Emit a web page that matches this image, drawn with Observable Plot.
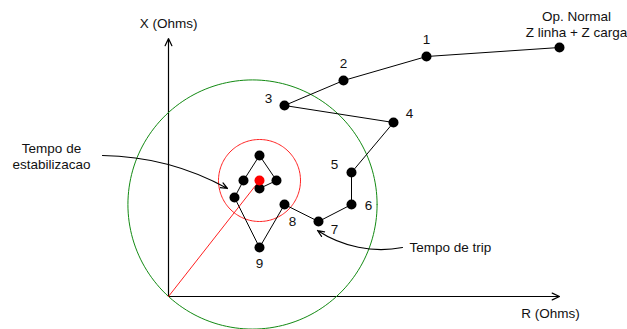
<!DOCTYPE html>
<html>
<head>
<meta charset="utf-8">
<script src="https://cdn.jsdelivr.net/npm/d3@7"></script>
<script src="https://cdn.jsdelivr.net/npm/@observablehq/plot@0.6"></script>
<style>
  html, body { margin: 0; padding: 0; background: #fff; }
  #chart svg { display: block; }
</style>
</head>
<body>
<div id="chart"></div>
<script>
// ---- Data (R, X in Ohms) ----
const trajLabels = ["Op. Normal", "1", "2", "3", "4", "5", "6", "7", "8", "9", "", "", "", "", ""];
const trajR = [39.1, 25.8, 17.5, 11.6, 22.5, 18.3, 18.3, 15.0, 11.6, 9.1, 6.6, 7.5, 9.1, 10.8, 9.1];
const trajX = [24.9, 24.0, 21.6, 19.1, 17.4, 12.4, 9.2, 7.5, 9.2, 4.9, 9.9, 11.6, 14.1, 11.6, 10.8];

const stablePoint = [9.1, 11.6];      // final (red) impedance point
const stableRadius = 4.1;            // red circle radius
const mhoCenter = [8.4, 9.2];        // green mho circle centre (passes through origin)

const axisLabels = ["R (Ohms)", "X (Ohms)"];
const axisEnd = [39.1, 25.8];

const annoTexts = ["Tempo de\nestabilizacao", "Tempo de trip"];
const annoTextR = [-11.7, 24.1];
const annoTextX = [14.1, 4.9];
const annoFromR = [-6.6, 23.4];
const annoFromX = [14.1, 4.9];
const annoToR = [5.9, 14.9];
const annoToX = [10.8, 6.6];

const normalText = "Op. Normal\nZ linha + Z carga";

// ---- Layout (pixel offsets, styles) ----
const labelOffsets = {
  "1": [0, -17], "2": [0, -17], "3": [-16, -7], "4": [16, -9], "5": [-17, -8],
  "6": [17, 1], "7": [16, 8], "8": [8, 17], "9": [0, 16]
};
const font = "Liberation Sans, Arial, sans-serif";
const fs = 13.5;

const traj = trajR.map((r, i) => ({R: r, X: trajX[i], label: trajLabels[i]}));

function circlePts(c, rad) {
  return d3.range(0, 361, 2).map(a => ({
    R: c[0] + rad * Math.cos(a * Math.PI / 180),
    X: c[1] + rad * Math.sin(a * Math.PI / 180)
  }));
}
const mhoRadius = Math.hypot(mhoCenter[0], mhoCenter[1]);

const numberLabelMarks = traj
  .filter(d => labelOffsets[d.label])
  .map(d => Plot.text([d], {
    x: "R", y: "X", text: "label",
    dx: labelOffsets[d.label][0], dy: labelOffsets[d.label][1],
    fontSize: fs, fontFamily: font, fill: "#111"
  }));

const annos = annoTexts.map((t, i) => ({
  t, tr: annoTextR[i], tx: annoTextX[i],
  r1: annoFromR[i], x1: annoFromX[i], r2: annoToR[i], x2: annoToX[i]
}));

const chart = Plot.plot({
  width: 627,
  height: 329,
  margin: 0,
  x: {domain: [-16.8, 45.9], axis: null},
  y: {domain: [-3.3, 29.6], axis: null},
  style: {background: "#fff"},
  marks: [
    // axes
    Plot.arrow([{x1: 0, y1: 0, x2: axisEnd[0], y2: 0}], {
      x1: "x1", y1: "y1", x2: "x2", y2: "y2",
      stroke: "black", strokeWidth: 1.2, headLength: 10, headAngle: 50
    }),
    Plot.arrow([{x1: 0, y1: 0, x2: 0, y2: axisEnd[1]}], {
      x1: "x1", y1: "y1", x2: "x2", y2: "y2",
      stroke: "black", strokeWidth: 1.2, headLength: 10, headAngle: 50
    }),
    // circles
    Plot.line(circlePts(mhoCenter, mhoRadius), {x: "R", y: "X", stroke: "#138a13", strokeWidth: 1}),
    Plot.line(circlePts(stablePoint, stableRadius), {x: "R", y: "X", stroke: "#ff2020", strokeWidth: 1}),
    // red line from origin to final point
    Plot.line([{R: 0, X: 0}, {R: stablePoint[0], X: stablePoint[1]}], {x: "R", y: "X", stroke: "#ff2020", strokeWidth: 1}),
    // trajectory
    Plot.line(traj, {x: "R", y: "X", stroke: "black", strokeWidth: 1}),
    Plot.dot(traj, {x: "R", y: "X", r: 5, fill: "black"}),
    Plot.dot([{R: stablePoint[0], X: stablePoint[1]}], {x: "R", y: "X", r: 5, fill: "#ff0000"}),
    // number labels
    ...numberLabelMarks,
    // Op. Normal label
    Plot.text([traj[0]], {
      x: "R", y: "X", text: () => normalText, dx: 17, dy: -24,
      lineHeight: 1.2, fontSize: fs, fontFamily: font, fill: "#111"
    }),
    // annotation arrows
    Plot.arrow([annos[0]], {
      x1: "r1", y1: "x1", x2: "r2", y2: "x2", bend: 14,
      stroke: "black", strokeWidth: 1.2, headLength: 9, headAngle: 45
    }),
    Plot.arrow([annos[1]], {
      x1: "r1", y1: "x1", x2: "r2", y2: "x2", bend: 22,
      stroke: "black", strokeWidth: 1.2, headLength: 9, headAngle: 45
    }),
    Plot.text([annos[0]], {
      x: "tr", y: "tx", text: "t", textAnchor: "middle",
      lineHeight: 1.2, fontSize: fs, fontFamily: font, fill: "#111"
    }),
    Plot.text([annos[1]], {
      x: "tr", y: "tx", text: "t", textAnchor: "start",
      fontSize: fs, fontFamily: font, fill: "#111"
    }),
    // axis labels
    Plot.text([{R: 38.2, X: -1.7, t: axisLabels[0]}], {
      x: "R", y: "X", text: "t", fontSize: fs, fontFamily: font, fill: "#111"
    }),
    Plot.text([{R: 0, X: 27.3, t: axisLabels[1]}], {
      x: "R", y: "X", text: "t", fontSize: fs, fontFamily: font, fill: "#111"
    })
  ]
});
document.getElementById("chart").appendChild(chart);
</script>
</body>
</html>
